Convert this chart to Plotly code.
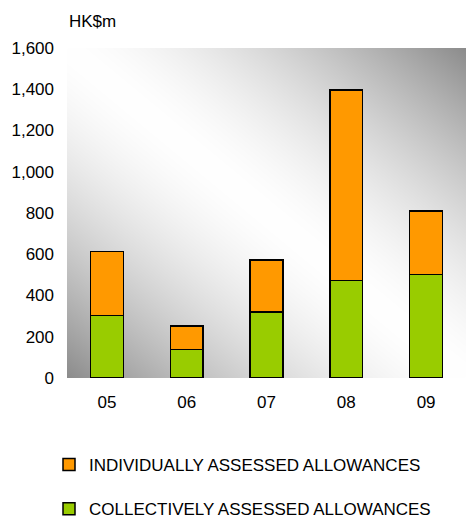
import base64, struct, zlib
import numpy as np
import plotly.graph_objects as go

years = ["05", "06", "07", "08", "09"]
collective = [303, 139, 320, 472, 503]
individual = [310, 113, 252, 925, 307]
y_ticks = [0, 200, 400, 600, 800, 1000, 1200, 1400, 1600]


def gradient_png(w, h, dark=140, power=1.55):
    u = np.linspace(0, 1, w)[None, :]
    v = np.linspace(1, 0, h)[:, None]
    t = (u + v) / 2.0
    d = np.abs(t - 0.5) * 2.0
    val = np.clip(255 - (d ** power) * (255 - dark), 0, 255).astype(np.uint8)
    rows = b"".join(b"\x00" + bytes(np.stack([val[r]] * 3, axis=-1).ravel()) for r in range(h))

    def chunk(tag, data):
        c = struct.pack(">I", len(data)) + tag + data
        return c + struct.pack(">I", zlib.crc32(tag + data) & 0xFFFFFFFF)

    png = b"\x89PNG\r\n\x1a\n"
    png += chunk(b"IHDR", struct.pack(">IIBBBBB", w, h, 8, 2, 0, 0, 0))
    png += chunk(b"IDAT", zlib.compress(rows, 9))
    png += chunk(b"IEND", b"")
    return "data:image/png;base64," + base64.b64encode(png).decode()


fig = go.Figure()
fig.add_trace(go.Bar(
    x=years, y=collective, name="COLLECTIVELY ASSESSED ALLOWANCES",
    marker=dict(color="#99CC00", line=dict(color="#000000", width=1.5)),
    width=0.41, legendgroup="c", legendrank=2,
))
fig.add_trace(go.Bar(
    x=years, y=individual, name="INDIVIDUALLY ASSESSED ALLOWANCES",
    marker=dict(color="#FF9900", line=dict(color="#000000", width=1.5)),
    width=0.41, legendgroup="i", legendrank=1,
))

fig.update_layout(
    width=466, height=518,
    margin=dict(l=67, r=0, t=48, b=140, autoexpand=False),
    barmode="stack",
    paper_bgcolor="white",
    plot_bgcolor="rgba(0,0,0,0)",
    font=dict(family="Liberation Sans, Arial, sans-serif", size=17, color="#000000"),
    xaxis=dict(
        type="category", range=[-0.5, 4.5], showgrid=False, zeroline=False,
        showline=False, ticks="", ticklabelstandoff=12, automargin=False,
    ),
    yaxis=dict(
        range=[0, 1600], tickvals=y_ticks, tickformat=",", showgrid=False,
        zeroline=False, showline=False, ticks="", ticklabelstandoff=12, automargin=False,
    ),
    legend=dict(
        xref="container", yref="container", x=49 / 466, y=1 - 447 / 518,
        xanchor="left", yanchor="top",
        traceorder="grouped", tracegroupgap=19,
        font=dict(size=17), bgcolor="rgba(0,0,0,0)",
    ),
    images=[dict(
        source=gradient_png(399, 330), xref="paper", yref="paper",
        x=0, y=1, sizex=1, sizey=1, sizing="stretch", layer="below",
        xanchor="left", yanchor="top",
    )],
    annotations=[dict(
        text="HK$m", xref="paper", yref="paper", x=0.065, y=1.079,
        xanchor="center", yanchor="middle", showarrow=False,
    )],
)

fig.write_html("out.html", config={"displayModeBar": False},
               post_script="document.body.style.margin='0';")
